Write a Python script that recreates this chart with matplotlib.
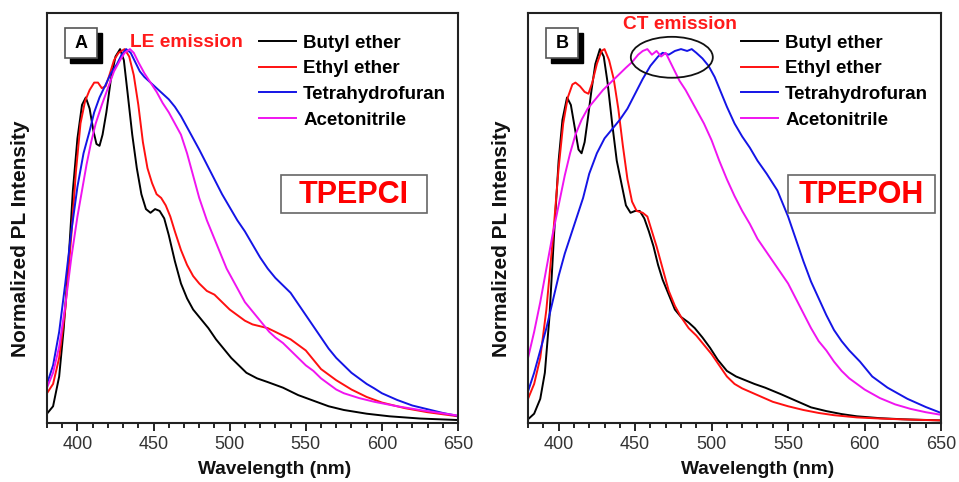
import matplotlib
matplotlib.use("Agg")
import matplotlib.pyplot as plt
from matplotlib.patches import Rectangle, Ellipse
from matplotlib.ticker import MultipleLocator

plt.rcParams['font.family'] = ['Liberation Sans', 'DejaVu Sans']

# ---- panel A: TPEPCl ----
wl_bu_a = [380, 384, 388, 391, 394, 397, 400, 403, 405.5, 408, 410.5, 412.5, 414.5, 416.5, 419, 422, 425, 428,
           430.5, 433, 436, 439, 442, 445, 448, 451, 454, 457, 460, 464, 468, 472, 476, 481, 486, 491, 496,
           501, 506, 511, 518, 525, 535, 545, 555, 565, 575, 590, 605, 625, 650]
pl_bu_a = [0.02, 0.04, 0.12, 0.25, 0.42, 0.62, 0.76, 0.85, 0.87, 0.84, 0.78, 0.745, 0.74, 0.77, 0.83, 0.92, 0.98, 1.0,
           0.97, 0.88, 0.77, 0.68, 0.61, 0.57, 0.56, 0.57, 0.565, 0.545, 0.5, 0.43, 0.37, 0.33, 0.30, 0.275, 0.25, 0.22, 0.195,
           0.17, 0.15, 0.13, 0.115, 0.105, 0.09, 0.07, 0.055, 0.04, 0.03, 0.02, 0.013, 0.007, 0.003]

wl_et_a = [380, 384, 388, 392, 396, 399, 402, 405, 408, 411, 413.5, 416, 418.5, 421, 424, 427, 431, 434, 437, 440,
           443, 446, 449, 452, 455, 458, 461, 464, 468, 472, 476, 480, 485, 490, 495, 500, 505, 510, 515, 520,
           525, 530, 535, 540, 545, 550, 555, 560, 570, 580, 590, 600, 615, 630, 650]
pl_et_a = [0.075, 0.10, 0.17, 0.30, 0.50, 0.67, 0.80, 0.86, 0.89, 0.91, 0.91, 0.895, 0.90, 0.93, 0.97, 0.99, 1.0, 0.98, 0.93, 0.85,
           0.75, 0.68, 0.64, 0.61, 0.60, 0.58, 0.55, 0.51, 0.46, 0.42, 0.39, 0.37, 0.35, 0.34, 0.32, 0.30, 0.285, 0.27, 0.26, 0.255,
           0.25, 0.24, 0.23, 0.22, 0.205, 0.19, 0.165, 0.14, 0.11, 0.085, 0.065, 0.05, 0.035, 0.024, 0.013]

wl_thf_a = [380, 384, 388, 392, 396, 400, 404, 408, 411, 414.5, 418, 422, 426, 429, 432, 435, 438, 441, 444, 448,
            452, 456, 460, 464, 468, 472, 476, 480, 485, 490, 495, 500, 505, 510, 515, 520, 525, 530, 535, 540,
            545, 550, 555, 560, 565, 570, 575, 580, 585, 590, 595, 600, 610, 620, 630, 640, 650]
pl_thf_a = [0.10, 0.15, 0.24, 0.37, 0.51, 0.63, 0.72, 0.78, 0.83, 0.87, 0.90, 0.935, 0.96, 0.985, 1.0, 0.99, 0.965, 0.94, 0.925, 0.91,
            0.895, 0.88, 0.865, 0.845, 0.82, 0.79, 0.76, 0.73, 0.69, 0.65, 0.61, 0.575, 0.54, 0.51, 0.475, 0.44, 0.41, 0.385, 0.365, 0.345,
            0.315, 0.285, 0.255, 0.225, 0.195, 0.17, 0.15, 0.13, 0.115, 0.10, 0.088, 0.075, 0.057, 0.042, 0.032, 0.022, 0.014]

wl_acn_a = [380, 384, 388, 392, 396, 400, 403, 406, 409, 412, 416, 420, 424, 428, 431, 434.5, 437, 440, 444, 448,
            452, 456, 460, 464, 468, 472, 476, 480, 485, 489, 494, 498, 502, 506, 510, 514, 518, 522, 526, 530,
            535, 540, 545, 550, 555, 560, 565, 570, 575, 585, 595, 610, 628, 650]
pl_acn_a = [0.09, 0.13, 0.20, 0.31, 0.44, 0.55, 0.62, 0.69, 0.75, 0.80, 0.85, 0.895, 0.94, 0.97, 0.99, 1.0, 0.99, 0.965, 0.935, 0.91,
            0.885, 0.855, 0.83, 0.80, 0.77, 0.72, 0.66, 0.60, 0.54, 0.50, 0.45, 0.41, 0.38, 0.35, 0.32, 0.30, 0.28, 0.26, 0.24, 0.225,
            0.21, 0.19, 0.17, 0.15, 0.135, 0.115, 0.10, 0.085, 0.075, 0.062, 0.052, 0.04, 0.028, 0.015]

# ---- panel B: TPEPOH ----
wl_bu_b = [380, 384, 388, 391, 394, 397, 400, 402.5, 405.5, 408, 410.5, 413, 415, 417, 419, 421.5, 424, 427, 429.5, 432,
           435, 438, 441, 444, 447, 450, 453, 456, 459, 462, 465, 468, 472, 476, 480, 485, 489, 494, 499, 504,
           510, 516, 522, 528, 535, 545, 555, 565, 575, 585, 595, 610, 625, 650]
pl_bu_b = [0.005, 0.02, 0.06, 0.13, 0.28, 0.50, 0.70, 0.81, 0.87, 0.85, 0.79, 0.73, 0.72, 0.75, 0.81, 0.89, 0.96, 1.0, 0.98, 0.91,
           0.80, 0.70, 0.64, 0.58, 0.56, 0.565, 0.565, 0.545, 0.51, 0.47, 0.42, 0.38, 0.34, 0.30, 0.28, 0.265, 0.25, 0.225, 0.197, 0.165,
           0.135, 0.12, 0.11, 0.10, 0.09, 0.073, 0.055, 0.037, 0.027, 0.019, 0.013, 0.008, 0.005, 0.002]

wl_et_b = [380, 384, 388, 392, 396, 400, 403, 406, 409, 411, 414, 417, 419.5, 422, 425, 428, 430, 433, 436, 439,
           442, 445, 448, 451, 455, 458, 461, 464, 468, 472, 476, 480, 485, 490, 495, 500, 505, 510, 515, 520,
           530, 540, 550, 560, 570, 580, 595, 610, 630, 650]
pl_et_b = [0.06, 0.10, 0.17, 0.30, 0.48, 0.68, 0.80, 0.87, 0.905, 0.91, 0.90, 0.885, 0.88, 0.91, 0.96, 0.995, 1.0, 0.97, 0.92, 0.84,
           0.74, 0.65, 0.59, 0.565, 0.56, 0.55, 0.51, 0.47, 0.41, 0.35, 0.31, 0.28, 0.25, 0.23, 0.205, 0.18, 0.15, 0.12, 0.10, 0.088,
           0.07, 0.052, 0.04, 0.03, 0.022, 0.016, 0.01, 0.007, 0.004, 0.002]

wl_thf_b = [380, 384, 388, 392, 396, 400, 404, 408, 412, 416, 420, 425, 430, 435, 440, 445, 450, 455, 460, 465,
            468, 472, 476, 480, 484, 487, 490, 494, 498, 502, 506, 510, 515, 520, 525, 530, 536, 543, 550,
            555, 560, 565, 570, 575, 580, 585, 590, 597, 605, 615, 628, 640, 650]
pl_thf_b = [0.08, 0.13, 0.19, 0.25, 0.32, 0.39, 0.45, 0.50, 0.55, 0.60, 0.665, 0.72, 0.76, 0.785, 0.81, 0.84, 0.88, 0.92, 0.955, 0.98,
            0.99, 0.985, 0.995, 1.0, 0.995, 1.0, 0.99, 0.975, 0.955, 0.925, 0.885, 0.845, 0.80, 0.765, 0.735, 0.70, 0.665, 0.62, 0.55,
            0.49, 0.43, 0.375, 0.33, 0.285, 0.245, 0.215, 0.19, 0.16, 0.12, 0.09, 0.06, 0.038, 0.022]

wl_acn_b = [380, 384, 388, 392, 396, 400, 404, 407.5, 411, 415, 419, 424, 429, 434, 439, 444, 448, 452, 455, 458,
            461, 464, 467, 470, 473, 476, 479, 483, 487, 491, 495, 500, 505, 510, 515, 520, 525, 530, 535, 540,
            545, 550, 555, 560, 565, 570, 575, 580, 585, 590, 595, 600, 610, 620, 630, 640, 650]
pl_acn_b = [0.17, 0.24, 0.32, 0.41, 0.50, 0.58, 0.66, 0.72, 0.77, 0.81, 0.84, 0.865, 0.89, 0.91, 0.93, 0.95, 0.965, 0.985, 0.995, 1.0,
            0.985, 0.995, 0.98, 0.99, 0.965, 0.94, 0.915, 0.89, 0.86, 0.83, 0.80, 0.755, 0.70, 0.65, 0.605, 0.565, 0.53, 0.49, 0.46, 0.43,
            0.40, 0.37, 0.33, 0.29, 0.25, 0.215, 0.19, 0.16, 0.135, 0.115, 0.10, 0.085, 0.062, 0.045, 0.033, 0.024, 0.017]

solvents = ['Butyl ether', 'Ethyl ether', 'Tetrahydrofuran', 'Acetonitrile']
colors = ['#000000', '#ff1010', '#1414e6', '#f014f0']

panels = [
    dict(letter='A', name='TPEPCI', rect=[0.049, 0.1224, 0.4286, 0.8506],
         data=[(wl_bu_a, pl_bu_a), (wl_et_a, pl_et_a), (wl_thf_a, pl_thf_a), (wl_acn_a, pl_acn_a)],
         box=(0.569, 0.925)),
    dict(letter='B', name='TPEPOH', rect=[0.5506, 0.1224, 0.4307, 0.8506],
         data=[(wl_bu_b, pl_bu_b), (wl_et_b, pl_et_b), (wl_thf_b, pl_thf_b), (wl_acn_b, pl_acn_b)],
         box=(0.630, 0.985)),
]

fig = plt.figure(figsize=(9.59, 4.82), dpi=100)

for p in panels:
    ax = fig.add_axes(p['rect'])
    for (x, y), c, lab in zip(p['data'], colors, solvents):
        ax.plot(x, y, color=c, lw=1.4, label=lab)
    ax.set_xlim(380, 650)
    ax.set_ylim(-0.005, 1.097)
    ax.xaxis.set_major_locator(MultipleLocator(50))
    ax.xaxis.set_minor_locator(MultipleLocator(10))
    ax.set_yticks([])
    ax.tick_params(axis='x', which='major', direction='out', length=6, width=1.2,
                   labelsize=13, labelcolor='#333333', pad=3)
    ax.tick_params(axis='x', which='minor', direction='out', length=3.5, width=1.2)
    for s in ax.spines.values():
        s.set_linewidth(1.5)
        s.set_color('#222222')
    ax.set_xlabel('Wavelength (nm)', fontsize=13.8, fontweight='bold', color='#111111')
    ax.xaxis.set_label_coords(0.555, -0.092)
    ax.set_ylabel('Normalized PL Intensity', fontsize=15, fontweight='bold', color='#111111')
    ax.yaxis.set_label_coords(-0.042, 0.449)

    leg = ax.legend(loc='upper left', bbox_to_anchor=(0.516, 0.947), frameon=False,
                    prop={'weight': 'bold', 'size': 13.5}, handlelength=1.95,
                    handletextpad=0.4, labelspacing=0.45, borderpad=0, borderaxespad=0)

    # panel letter with drop shadow
    ax.add_patch(Rectangle((0.056, 0.878), 0.078, 0.073, transform=ax.transAxes,
                           facecolor='black', edgecolor='black', clip_on=False, zorder=5))
    ax.add_patch(Rectangle((0.044, 0.890), 0.078, 0.073, transform=ax.transAxes,
                           facecolor='white', edgecolor='#555555', lw=1.2, clip_on=False, zorder=6))
    ax.text(0.083, 0.926, p['letter'], transform=ax.transAxes, ha='center', va='center',
            fontsize=13, fontweight='bold', zorder=7)

    # compound name box
    x0, x1 = p['box']
    ax.add_patch(Rectangle((x0, 0.512), x1 - x0, 0.093, transform=ax.transAxes,
                           facecolor='white', edgecolor='#666666', lw=1.2, zorder=6))
    ax.text((x0 + x1) / 2, 0.557, p['name'], transform=ax.transAxes, ha='center', va='center',
            fontsize=22, fontweight='bold', color='#ff0000', zorder=7)

    p['ax'] = ax

ax_a = panels[0]['ax']
ax_b = panels[1]['ax']
ax_a.text(0.339, 0.929, 'LE emission', transform=ax_a.transAxes, ha='center', va='center',
          fontsize=13.8, fontweight='bold', color='#ff1a1a', zorder=7)
ax_b.text(0.368, 0.971, 'CT emission', transform=ax_b.transAxes, ha='center', va='center',
          fontsize=13.8, fontweight='bold', color='#ff1a1a', zorder=7)
ax_b.add_patch(Ellipse((474, 0.978), 53.6, 0.11, facecolor='none', edgecolor='#111111', lw=1.3, zorder=7))

fig.savefig('out.png', dpi=100)
